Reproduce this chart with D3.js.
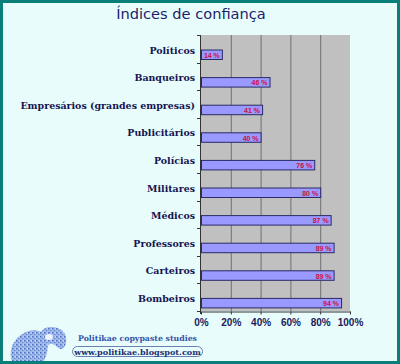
<!DOCTYPE html>
<html><head><meta charset="utf-8">
<script src="https://cdn.jsdelivr.net/npm/d3@7"></script>
<style>html,body{margin:0;padding:0;background:#fff;}svg{display:block;}</style>
</head><body>
<svg id="c" width="400" height="364"></svg>
<script>
const categories = ["Políticos","Banqueiros","Empresários (grandes empresas)","Publicitários","Polícias","Militares","Médicos","Professores","Carteiros","Bombeiros"];
const values = [14,46,41,40,76,80,87,89,89,94];
const ticks = [0,20,40,60,80,100];
const title = "Índices de confiança";

const svg = d3.select("#c");
const defs = svg.append("defs");
const pat = defs.append("pattern").attr("id","speck").attr("width",4).attr("height",4).attr("patternUnits","userSpaceOnUse");
pat.append("rect").attr("width",4).attr("height",4).attr("fill","#9fb8ec");
pat.append("rect").attr("x",0).attr("y",0).attr("width",1.5).attr("height",1.5).attr("fill","#4f70c0");
pat.append("rect").attr("x",2).attr("y",2).attr("width",1.5).attr("height",1).attr("fill","#6a8ad0");
pat.append("rect").attr("x",3).attr("y",0.5).attr("width",1).attr("height",1).attr("fill","#d8e4fa");

svg.append("rect").attr("x",1.5).attr("y",1.5).attr("width",397).attr("height",361)
  .attr("fill","#e8fcfc").attr("stroke","#0a7f7a").attr("stroke-width",3);

const x = d3.scaleLinear().domain([0,100]).range([201,350]);
const y = d3.scaleBand().domain(categories).range([35,311]);

svg.append("text").attr("x",191).attr("y",18.5).attr("text-anchor","middle")
  .attr("font-family","DejaVu Sans").attr("font-size",14.6).attr("fill","#1c1c6a").text(title);

svg.append("rect").attr("x",x(0)).attr("y",35).attr("width",x(100)-x(0)).attr("height",311-35).attr("fill","#c0c0c0");

svg.selectAll("line.grid").data(ticks.filter(t=>t>0&&t<100)).enter().append("line")
  .attr("x1",d=>x(d)+0.5).attr("x2",d=>x(d)+0.5).attr("y1",35).attr("y2",311)
  .attr("stroke","#707070").attr("stroke-width",1);

const xAxis = d3.axisBottom(x).tickValues(ticks).tickFormat(d=>d+"%").tickSize(3).tickSizeOuter(0);
const xa = svg.append("g").attr("transform","translate(0,311.5)").call(xAxis);
xa.select(".domain").attr("stroke","#333");
xa.selectAll(".tick line").attr("stroke","#333");
xa.selectAll("text").attr("font-family","Liberation Sans").attr("font-weight","bold").attr("font-size",10)
  .attr("fill","#1a1a5e").attr("dy",0).attr("y",14.5);

const bounds = d3.range(categories.length+1).map(i=>35+i*y.step());
svg.append("line").attr("x1",200.5).attr("x2",200.5).attr("y1",35).attr("y2",314).attr("stroke","#333");
svg.selectAll("line.yt").data(bounds).enter().append("line")
  .attr("x1",197).attr("x2",201).attr("y1",d=>Math.round(d)+0.5).attr("y2",d=>Math.round(d)+0.5).attr("stroke","#333");

const bh = 9.5;
svg.selectAll("rect.bar").data(values).enter().append("rect")
  .attr("x",x(0)+0.5).attr("y",(d,i)=>y(categories[i])+15)
  .attr("width",d=>x(d)-x(0)).attr("height",bh)
  .attr("fill","#9999ff").attr("stroke","#2a2a66").attr("stroke-width",1);

svg.selectAll("text.val").data(values).enter().append("text")
  .attr("x",d=>x(d)-2).attr("y",(d,i)=>y(categories[i])+15+bh/2+3)
  .attr("text-anchor","end").attr("font-family","Liberation Sans").attr("font-weight","bold").attr("font-size",7)
  .attr("fill","#d0103a").text(d=>d+" %");

svg.selectAll("text.cat").data(categories).enter().append("text")
  .attr("x",195).attr("y",d=>y(d)+18.5).attr("text-anchor","end")
  .attr("font-family","DejaVu Serif").attr("font-weight","bold").attr("font-size",9.45)
  .attr("fill","#141450").text(d=>d);

// footer logo (approximation of the sculpture image)
const logo = svg.append("g");
logo.append("path").attr("d","M12,361 C8,350 14,338 24,333 C32,328 42,330 46,336 C50,342 48,352 44,361 Z")
  .attr("fill","url(#speck)");
logo.append("path").attr("d","M40,340 C38,332 44,326 52,327 C60,327 66,332 66,338 C67,344 64,350 60,349 C56,347 54,343 50,344 C46,345 42,345 40,340 Z")
  .attr("fill","url(#speck)");
logo.append("ellipse").attr("cx",49).attr("cy",337).attr("rx",4).attr("ry",3).attr("fill","#eef4ff");

svg.append("text").attr("x",137.5).attr("y",340.5).attr("text-anchor","middle")
  .attr("font-family","DejaVu Serif").attr("font-weight","bold").attr("font-size",7.8)
  .attr("fill","#3355aa").text("Politikae copypaste studies");
svg.append("rect").attr("x",72.5).attr("y",346.5).attr("width",130).attr("height",10).attr("rx",5)
  .attr("fill","none").attr("stroke","#6a80b0").attr("stroke-width",1);
svg.append("text").attr("x",137.5).attr("y",354.5).attr("text-anchor","middle")
  .attr("font-family","DejaVu Serif").attr("font-weight","bold").attr("font-size",8.1)
  .attr("fill","#20306a").text("www.politikae.blogspot.com");
</script>
</body></html>
